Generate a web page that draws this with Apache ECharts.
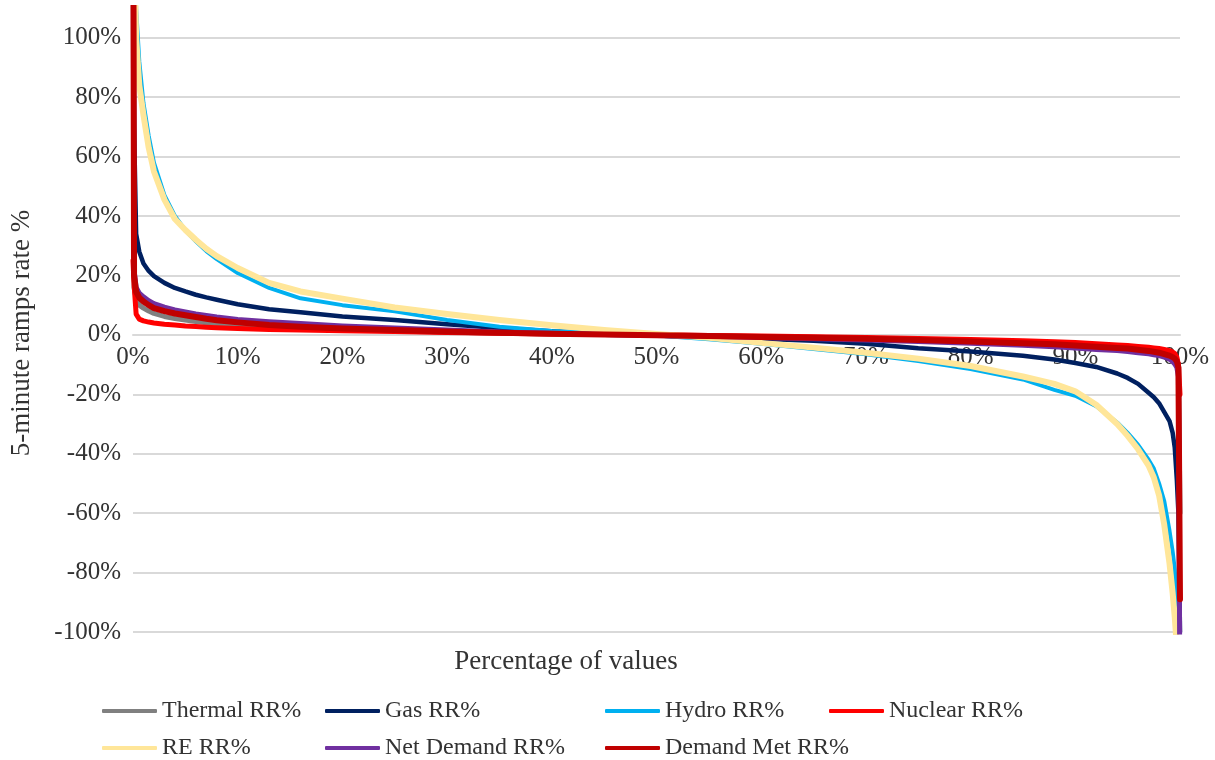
<!DOCTYPE html>
<html>
<head>
<meta charset="utf-8">
<script src="https://cdn.jsdelivr.net/npm/echarts@6/dist/echarts.min.js"></script>
<style>
  html, body { margin: 0; padding: 0; background: #ffffff; }
  #chart { width: 1215px; height: 760px; }
</style>
</head>
<body>
<div id="chart"></div>
<script>
// Percentage of values (x positions, %)
const xPct = [0, 0.1, 0.3, 0.6, 1, 1.5, 2, 3, 4, 5, 6, 7, 8, 10, 13, 16, 20, 25, 30, 35, 40, 45, 50, 55, 60, 65, 70, 75, 80, 85, 88, 90, 92, 94, 95, 96, 97, 97.5, 98, 98.5, 99, 99.3, 99.5, 99.7, 99.85, 100];

// 5-minute ramp rates (%), one array per series
const thermalRR = [150, 16, 12, 10, 9, 8, 7.2, 6.2, 5.5, 5.0, 4.5, 4.1, 3.8, 3.3, 2.7, 2.2, 1.8, 1.3, 0.9, 0.6, 0.3, 0.1, -0.1, -0.3, -0.6, -0.9, -1.2, -1.6, -2, -2.6, -3, -3.3, -3.7, -4.2, -4.5, -4.8, -5.2, -5.5, -5.8, -6.2, -6.8, -7.3, -8, -9, -11, -60];
const gasRR = [130, 70, 34, 28, 24, 21.5, 19.8, 17.5, 15.8, 14.6, 13.5, 12.6, 11.8, 10.3, 8.6, 7.6, 6.2, 5, 3.6, 2.3, 1.2, 0.4, -0.2, -0.8, -1.3, -2, -3, -4.5, -5.6, -7, -8.3, -9.5, -10.8, -13, -14.5, -16.5, -19.5, -21, -23, -26, -29, -33, -38, -49, -60, -100];
const hydroRR = [200, 140, 110, 92, 78, 67, 58, 47, 40, 35.2, 31.5, 28.2, 25.5, 20.8, 15.8, 12.3, 10, 7.9, 5, 2.7, 1.3, 0.5, -0.2, -1.5, -3, -4.8, -6.5, -8.8, -11.5, -15, -18.5, -20.5, -24, -29.5, -33, -37, -42, -45, -50, -56, -66, -73, -79, -90, -100, -115];
const nuclearRR = [25, 17, 7, 5.3, 4.7, 4.3, 4, 3.6, 3.3, 3.0, 2.8, 2.6, 2.4, 2.1, 1.8, 1.6, 1.4, 1.1, 0.8, 0.5, 0.3, 0.1, 0, -0.2, -0.4, -0.6, -0.9, -1.2, -1.6, -2, -2.3, -2.6, -3, -3.4, -3.6, -3.9, -4.2, -4.4, -4.6, -4.9, -5.3, -5.8, -6.3, -7.5, -10, -20];
const reRR = [200, 130, 100, 84, 74, 63, 55, 45.5, 39, 35.3, 32, 29, 26.5, 22.5, 17.5, 14.6, 12.2, 9.2, 7, 5, 3.2, 1.6, 0.3, -1, -2.7, -4.3, -6, -8, -10.5, -14, -16.5, -19, -23.5, -30, -34, -38.5, -44, -48, -54, -64, -77, -87, -95, -105, -115, -120];
const netDemandRR = [200, 22, 16, 14, 12.8, 11.5, 10.5, 9.3, 8.4, 7.7, 7, 6.5, 6, 5.2, 4.4, 3.8, 3, 2.3, 1.6, 1, 0.5, 0.1, -0.2, -0.5, -0.9, -1.3, -1.7, -2.2, -2.8, -3.5, -4, -4.4, -4.9, -5.3, -5.6, -6, -6.4, -6.7, -7, -7.5, -8.2, -9, -9.8, -11, -14, -130];
const demandMetRR = [200, 20, 14.5, 12.5, 11.2, 10, 9, 8, 7.2, 6.6, 6, 5.4, 4.9, 4.2, 3.3, 2.7, 2.1, 1.6, 1.1, 0.7, 0.4, 0.1, -0.1, -0.4, -0.7, -1, -1.3, -1.7, -2.2, -2.8, -3.2, -3.6, -4, -4.4, -4.6, -5, -5.4, -5.7, -6, -6.5, -7, -7.5, -8, -9, -11, -89];

const seriesNames = ['Thermal RR%', 'Gas RR%', 'Hydro RR%', 'Nuclear RR%', 'RE RR%', 'Net Demand RR%', 'Demand Met RR%'];
const seriesValues = [thermalRR, gasRR, hydroRR, nuclearRR, reRR, netDemandRR, demandMetRR];

const xTitle = 'Percentage of values';
const yTitle = '5-minute ramps rate %';

const colors = ['#808080', '#002060', '#00B0F0', '#FF0000', '#FFE699', '#7030A0', '#C00000'];
const widths = [5, 4.5, 4, 5, 6, 5, 6];
const FONT = '"Liberation Serif", "DejaVu Serif", serif';
const TXT = '#333333';

const Y_MIN = -100, Y_MAX = 110;
const GRID = { left: 133, right: 35, top: 8, bottom: 128 };
const CH = 760;
// place the x axis at y = 0 (the category line crosses at zero)
const gridH = CH - GRID.top - GRID.bottom;
const xAxisOffset = -gridH * (0 - Y_MIN) / (Y_MAX - Y_MIN);

const series = seriesNames.map((name, i) => ({
  name: name,
  type: 'line',
  data: xPct.map((x, k) => [x, seriesValues[i][k]]),
  showSymbol: false,
  symbol: 'none',
  smooth: false,
  clip: true,
  color: colors[i],
  lineStyle: { color: colors[i], width: widths[i], cap: 'round', join: 'round' },
  emphasis: { disabled: true }
}));

// legend placement (two rows, column-aligned)
const legendPos = [
  [102, 699], [325, 699], [605, 699], [829, 699],
  [102, 736], [325, 736], [605, 736]
];
const legends = seriesNames.map((name, i) => ({
  data: [name],
  left: legendPos[i][0],
  top: legendPos[i][1],
  padding: 0,
  icon: 'roundRect',
  itemWidth: 55,
  itemHeight: 4,
  selectedMode: false,
  textStyle: { fontFamily: FONT, fontSize: 24, color: TXT }
}));

const chart = echarts.init(document.getElementById('chart'), null, { renderer: 'canvas' });
chart.setOption({
  animation: false,
  backgroundColor: '#ffffff',
  grid: { left: GRID.left, right: GRID.right, top: GRID.top, bottom: GRID.bottom, containLabel: false },
  xAxis: {
    type: 'value',
    min: 0, max: 100, interval: 10,
    offset: xAxisOffset,
    axisLine: { show: true, onZero: false, lineStyle: { color: '#d9d9d9', width: 2 } },
    axisTick: { show: false },
    splitLine: { show: false },
    axisLabel: { formatter: '{value}%', fontFamily: FONT, fontSize: 25, color: TXT, margin: 10 }
  },
  yAxis: {
    type: 'value',
    min: Y_MIN, max: Y_MAX, interval: 20,
    axisLine: { show: false },
    axisTick: { show: false },
    splitLine: { show: true, showMaxLine: false, lineStyle: { color: '#d9d9d9', width: 2 } },
    axisLabel: { formatter: '{value}%', fontFamily: FONT, fontSize: 25, color: TXT, margin: 12, showMaxLabel: false }
  },
  legend: legends,
  graphic: [
    {
      type: 'text',
      x: 566,
      y: 662,
      style: { text: xTitle, font: '27px ' + FONT, fill: TXT, textAlign: 'center', textVerticalAlign: 'middle' }
    },
    {
      type: 'text',
      x: 22,
      y: 333,
      rotation: Math.PI / 2,
      style: { text: yTitle, font: '27px ' + FONT, fill: TXT, textAlign: 'center', textVerticalAlign: 'middle' }
    }
  ],
  series: series
});
</script>
</body>
</html>
